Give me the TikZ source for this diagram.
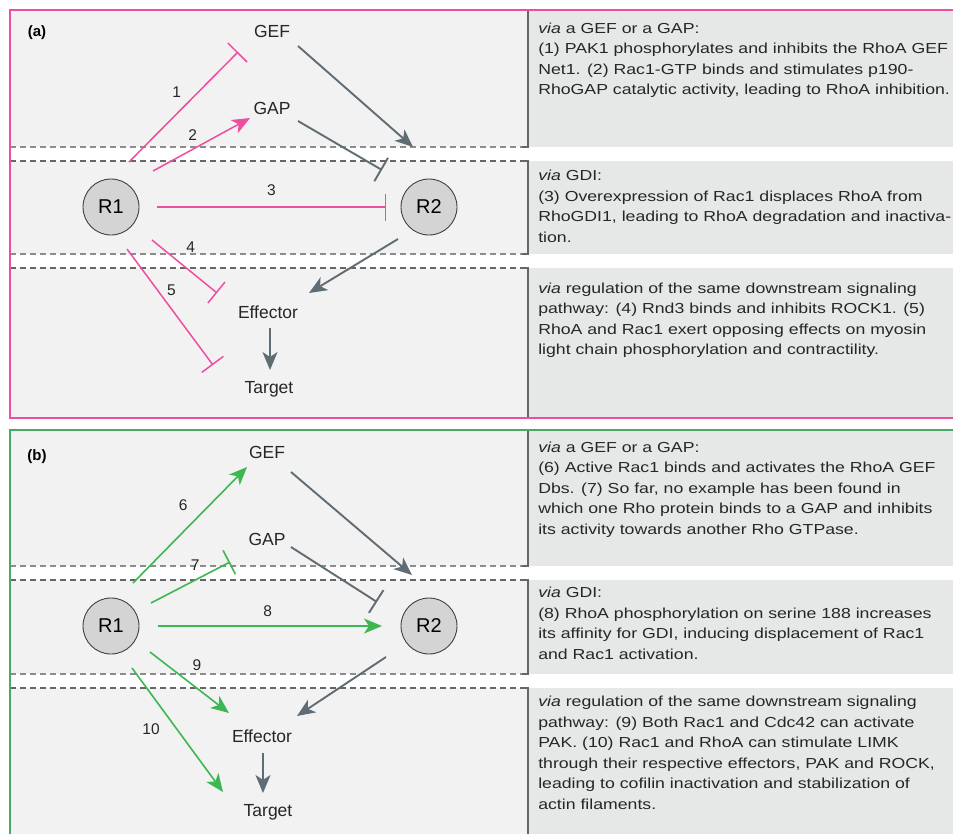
\documentclass[tikz,border=0pt]{standalone}
\usepackage{fontspec}
\setmainfont{Liberation Sans}
\usetikzlibrary{arrows.meta,calc}

\definecolor{rpink}{RGB}{238,78,160}
\definecolor{rgreen}{RGB}{62,182,82}
\definecolor{bgreen}{RGB}{72,170,104}
\definecolor{slate}{RGB}{96,108,116}
\definecolor{paneL}{RGB}{242,242,242}
\definecolor{paneR}{RGB}{230,231,231}

\tikzset{
	gtp/.style = { circle, draw = black!75, fill = black!17, line width = 0.9pt,
		minimum size = 56pt, inner sep = 0pt, font = \fontsize{20}{22}\selectfont },
	reg/.style = { font = \fontsize{17.5}{19}\selectfont, text = black!85 },
	num/.style = { font = \fontsize{15.5}{17}\selectfont, text = black!85, inner sep = 0pt },
	act/.style = { -{Stealth[length=18pt, width=15pt, inset=5pt]} },
	inh/.style = { -{Bar[width=27pt]} },
	pinkline/.style = { draw = rpink, line width = 1.5pt },
	greenline/.style = { draw = rgreen, line width = 1.6pt },
	slateline/.style = { draw = slate, line width = 1.9pt },
	desc/.style = { anchor = north west, inner sep = 0pt, align = left,
		font = \fontsize{14.5}{20.5}\selectfont, text = black!85, xscale = 1.22, transform shape },
	gapline/.style = { dash pattern = on 6pt off 4pt, line width = 1.3pt },
	bracket/.style = { draw = black!60, line width = 1.4pt }
}

\begin{document}
\begin{tikzpicture}[x = 1pt, y = -1pt]
	\useasboundingbox (0,0) rectangle (953,833);

	% panels, bands and borders
	\foreach \top/\bot/\ga/\gb/\col in {10/418/147/254/rpink, 430/845/566/674/bgreen} {
		\fill[paneL] (10,\top) rectangle (529,\bot);
		\fill[paneR] (529,\top) rectangle (960,\bot);
		\foreach \g in {\ga,\gb} {
			\fill[white] (10,\g) rectangle (960,\g+14);
			\draw[gapline, black!45] (10,\g) -- (526,\g);
			\draw[gapline, black!60] (10,\g+14) -- (526,\g+14);
		}
		\draw[bracket] (528,\top) -- (528,\ga) -- (522,\ga);
		\draw[bracket] (522,\ga+14) -- (528,\ga+14) -- (528,\gb) -- (522,\gb);
		\draw[bracket] (522,\gb+14) -- (528,\gb+14) -- (528,\bot);
		\draw[\col, line width = 2pt] (10,\top) rectangle (965,\bot);
	}

	% (a)
	\node[font = \bfseries\fontsize{15}{17}\selectfont] (taga) at (37,33) {(a)};
	\node[reg] (gefa) at (272,31) {GEF};
	\node[reg] (gapa) at (272,108) {GAP};
	\node[gtp] (r1a) at (111,207) {R1};
	\node[gtp] (r2a) at (429,207) {R2};
	\node[reg] (effa) at (268,312) {Effector};
	\node[reg] (tara) at (269,389) {Target};

	\draw[pinkline, inh] ($(r1a)+(18,-45)$) -- ($(gefa)+(-34,21)$)
		node[num, pos = .53, above left = 5pt] {1};
	\draw[pinkline, act] ($(r1a)+(42,-36)$) -- ($(gapa)+(-22,10)$)
		node[num, pos = .41, above = 8pt] {2};
	\draw[pinkline, inh] ($(r1a)+(46,0)$) -- ($(r2a)+(-43,0)$)
		node[num, pos = .5, above = 11pt] {3};
	\draw[pinkline, inh] ($(r1a)+(41,33)$) -- ($(effa)+(-51,-19)$)
		node[num, pos = .4, above right = 7.5pt] {4};
	\draw[pinkline, inh] ($(r1a)+(16,42)$) -- ($(tara)+(-56,-24)$)
		node[num, pos = .43, above right = 2.5pt] {5};
	\draw[slateline, act] ($(gefa)+(26,15)$) -- ($(r2a)+(-16,-60)$);
	\draw[slateline, inh] ($(gapa)+(26,13)$) -- ($(r2a)+(-47,-37)$);
	\draw[slateline, act] ($(r2a)+(-31,32)$) -- ($(effa)+(41,-19)$);
	\draw[slateline, act] ($(effa)+(2,16)$) -- ($(tara)+(1,-19)$);

	\node[desc] (txta1) at (538,22.5) {\textit{via} a GEF or a GAP:\\
		(1) PAK1 phosphorylates and inhibits the RhoA GEF\\
		Net1. (2) Rac1-GTP binds and stimulates p190-\\
		RhoGAP catalytic activity, leading to RhoA inhibition.};
	\node[desc] (txta2) at (538,170) {\textit{via} GDI:\\
		(3) Overexpression of Rac1 displaces RhoA from\\
		RhoGDI1, leading to RhoA degradation and inactiva-\\
		tion.};
	\node[desc] (txta3) at (538,282.5) {\textit{via} regulation of the same downstream signaling\\
		pathway: (4) Rnd3 binds and inhibits ROCK1. (5)\\
		RhoA and Rac1 exert opposing effects on myosin\\
		light chain phosphorylation and contractility.};

	% (b)
	\node[font = \bfseries\fontsize{15}{17}\selectfont] (tagb) at (37,457) {(b)};
	\node[reg] (gefb) at (267,452) {GEF};
	\node[reg] (gapb) at (267,539) {GAP};
	\node[gtp] (r1b) at (111,626) {R1};
	\node[gtp] (r2b) at (429,626) {R2};
	\node[reg] (effb) at (262,736) {Effector};
	\node[reg] (tarb) at (268,812) {Target};

	\draw[greenline, act] ($(r1b)+(22,-43)$) -- ($(gefb)+(-20,15)$)
		node[num, pos = .55, above left = 7.5pt] {6};
	\draw[greenline, inh] ($(r1b)+(40,-23)$) -- ($(gapb)+(-37,23)$)
		node[num, pos = .56, above = 9pt] {7};
	\draw[greenline, act] ($(r1b)+(47,0)$) -- ($(r2b)+(-47,0)$)
		node[num, pos = .49, above = 9pt] {8};
	\draw[greenline, act] ($(r1b)+(39,26)$) -- ($(effb)+(-33,-23)$)
		node[num, pos = .44, above right = 7pt] {9};
	\draw[greenline, act] ($(r1b)+(21,42)$) -- ($(tarb)+(-45,-20)$)
		node[num, pos = .39, below left = 7pt] {10};
	\draw[slateline, act] ($(gefb)+(24,20)$) -- ($(r2b)+(-17,-51)$);
	\draw[slateline, inh] ($(gapb)+(24,8)$) -- ($(r2b)+(-52,-24)$);
	\draw[slateline, act] ($(r2b)+(-43,31)$) -- ($(effb)+(35,-20)$);
	\draw[slateline, act] ($(effb)+(1,17)$) -- ($(tarb)+(-5,-19)$);

	\node[desc] (txtb1) at (538,441.5) {\textit{via} a GEF or a GAP:\\
		(6) Active Rac1 binds and activates the RhoA GEF\\
		Dbs. (7) So far, no example has been found in\\
		which one Rho protein binds to a GAP and inhibits\\
		its activity towards another Rho GTPase.};
	\node[desc] (txtb2) at (538,587) {\textit{via} GDI:\\
		(8) RhoA phosphorylation on serine 188 increases\\
		its affinity for GDI, inducing displacement of Rac1\\
		and Rac1 activation.};
	\node[desc] (txtb3) at (538,696) {\textit{via} regulation of the same downstream signaling\\
		pathway: (9) Both Rac1 and Cdc42 can activate\\
		PAK. (10) Rac1 and RhoA can stimulate LIMK\\
		through their respective effectors, PAK and ROCK,\\
		leading to cofilin inactivation and stabilization of\\
		actin filaments.};
\end{tikzpicture}
\end{document}
